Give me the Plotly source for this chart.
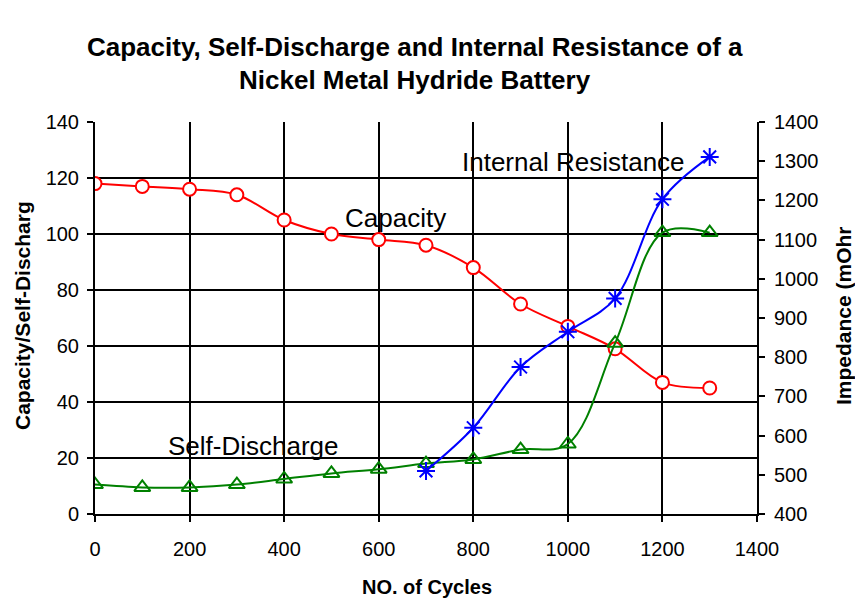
import plotly.graph_objects as go

cycles = [0, 100, 200, 300, 400, 500, 600, 700, 800, 900, 1000, 1100, 1200, 1300]
capacity = [118, 117, 116, 114, 105, 100, 98, 96, 88, 75, 67, 59, 47, 45]
self_discharge = [10.5, 9.5, 9.5, 10.5, 12.5, 14.5, 16, 18, 19.5, 23, 25, 61, 100.5, 100.5]
ir_cycles = [700, 800, 900, 1000, 1100, 1200, 1300]
internal_resistance = [510, 620, 775, 865, 950, 1203, 1311]

FONT = "Liberation Sans, Arial, sans-serif"
W, H = 855, 601
ML, MR, MT, MB = 95, 98, 122, 87
PW, PH = W - ML - MR, H - MT - MB


def px(x):
    return (x - ML) / PW


def py(y):
    return (H - y - MB) / PH


fig = go.Figure()
fig.add_trace(go.Scatter(
    x=cycles, y=capacity, mode="lines+markers", name="Capacity",
    line=dict(color="#FF0000", width=2, shape="spline", smoothing=1),
    marker=dict(symbol="circle", size=13, color="white", line=dict(color="#FF0000", width=2)),
    yaxis="y"))
fig.add_trace(go.Scatter(
    x=cycles, y=self_discharge, mode="lines+markers", name="Self-Discharge",
    line=dict(color="#008000", width=2, shape="spline", smoothing=1),
    marker=dict(symbol="triangle-up-open", size=14, color="#008000", line=dict(color="#008000", width=2)),
    yaxis="y"))
fig.add_trace(go.Scatter(
    x=ir_cycles, y=internal_resistance, mode="lines+markers", name="Internal Resistance",
    line=dict(color="#0000FF", width=2, shape="spline", smoothing=1),
    marker=dict(symbol="asterisk-open", size=15, color="#0000FF", line=dict(color="#0000FF", width=2)),
    yaxis="y2"))

axis_common = dict(showline=True, linecolor="black", linewidth=2, ticks="outside",
                   ticklen=6, tickwidth=2, tickcolor="black", zeroline=False,
                   tickfont=dict(family=FONT, size=20, color="black"))


def ann(text, x, y, size, bold=False, angle=0, ref="paper"):
    return dict(text=f"<b>{text}</b>" if bold else text, x=x, y=y,
                xref="paper" if ref == "paper" else "x", yref="paper" if ref == "paper" else "y",
                xanchor="center", yanchor="middle", textangle=angle, showarrow=False,
                font=dict(family=FONT, size=size, color="black"))


fig.update_layout(
    width=W, height=H,
    paper_bgcolor="white", plot_bgcolor="white",
    margin=dict(l=ML, r=MR, t=MT, b=MB, autoexpand=False),
    showlegend=False,
    xaxis=dict(range=[0, 1400], dtick=200, showgrid=True, gridcolor="black", gridwidth=2,
               ticklabelstandoff=10, **axis_common),
    yaxis=dict(range=[0, 140], dtick=20, showgrid=True, gridcolor="black", gridwidth=2,
               ticklabelstandoff=4, **axis_common),
    yaxis2=dict(range=[400, 1400], dtick=100, overlaying="y", side="right", showgrid=False,
                ticklabelstandoff=5, **axis_common),
    annotations=[
        ann("Capacity, Self-Discharge and Internal Resistance of a", px(415), py(47), 26, bold=True),
        ann("Nickel Metal Hydride Battery", px(415), py(80), 26, bold=True),
        ann("Capacity", 636, 105.7, 26, ref="data"),
        ann("Internal Resistance", 1011, 125.7, 26, ref="data"),
        ann("Self-Discharge", 336, 24.3, 26, ref="data"),
        ann("NO. of Cycles", px(427), py(587), 20, bold=True),
        ann("Capacity/Self-Discharg", px(22), py(316), 21, bold=True, angle=-90),
        ann("Impedance (mOhr", px(843), py(316), 21, bold=True, angle=-90),
    ],
)

fig.write_html("out.html", config={"displayModeBar": False},
               post_script="document.body.style.margin='0';")
